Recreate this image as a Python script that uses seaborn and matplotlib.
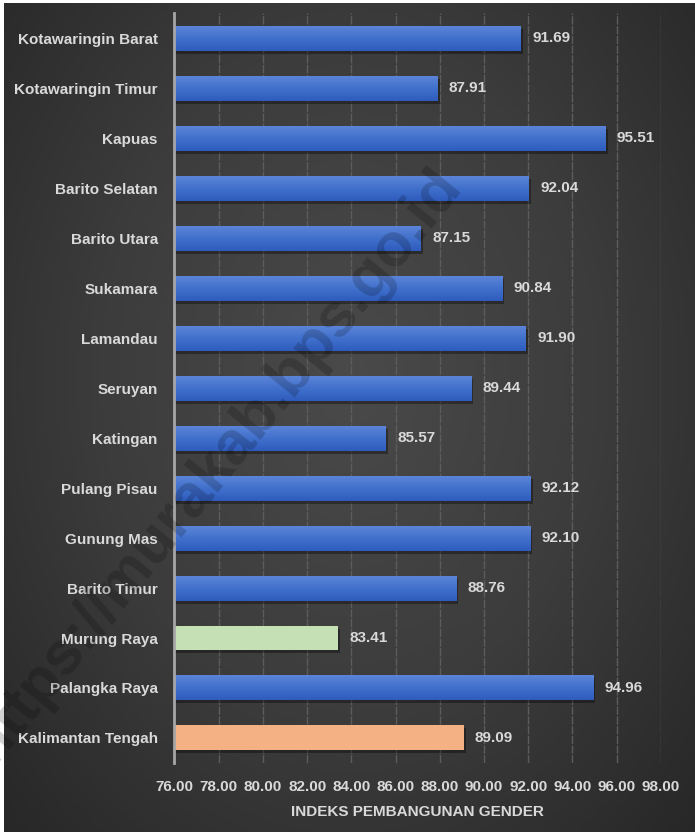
import numpy as np
import pandas as pd
import matplotlib
matplotlib.use('Agg')
import matplotlib.pyplot as plt
import seaborn as sns

# Data
wilayah = ['Kotawaringin Barat', 'Kotawaringin Timur', 'Kapuas', 'Barito Selatan',
           'Barito Utara', 'Sukamara', 'Lamandau', 'Seruyan', 'Katingan',
           'Pulang Pisau', 'Gunung Mas', 'Barito Timur', 'Murung Raya',
           'Palangka Raya', 'Kalimantan Tengah']
ipg = [91.69, 87.91, 95.51, 92.04, 87.15, 90.84, 91.90, 89.44, 85.57,
       92.12, 92.10, 88.76, 83.41, 94.96, 89.09]
ticks = [76, 78, 80, 82, 84, 86, 88, 90, 92, 94, 96, 98]

df = pd.DataFrame({'Wilayah': wilayah, 'IPG': ipg})

blue = '#3f6dcc'
warna = {w: blue for w in wilayah}
warna['Murung Raya'] = '#c5e0b4'
warna['Kalimantan Tengah'] = '#f4b183'

sns.set_style('dark')
plt.rcParams['font.family'] = ['Liberation Sans', 'DejaVu Sans']
txt = '#d9d9d9'
fs = 11

fig = plt.figure(figsize=(6.95, 8.32), dpi=100)
fig.patch.set_facecolor('white')

# background gradient (dark gray, lighter in the middle)
bg = fig.add_axes([0.006, 0, 0.994, 0.996], zorder=-10)
yy, xx = np.mgrid[-1:1:300j, -1:1:300j]
r = np.sqrt((xx * 0.9) ** 2 + ((yy + 0.1) * 0.8) ** 2)
bg.imshow(r, cmap=matplotlib.colors.LinearSegmentedColormap.from_list(
    'g', ['#4a4a4a', '#3c3c3c', '#262626']), aspect='auto', vmin=0, vmax=1.3,
    extent=[0, 1, 0, 1])
bg.set_axis_off()

ax = fig.add_axes([0.251, 0.083, 0.7, 0.901])
ax.set_facecolor('none')

# shadows
ax.barh(np.arange(len(wilayah)) + 0.06, np.array(ipg) - 76 + 0.08, left=76,
        height=0.5, color='black', alpha=0.35, zorder=1, linewidth=0)

sns.barplot(data=df, x='IPG', y='Wilayah', hue='Wilayah', palette=warna,
            orient='h', width=0.5, legend=False, ax=ax, zorder=2,
            saturation=1, edgecolor='none', linewidth=0)

# vertical gradient on the blue bars
grad_cmap = matplotlib.colors.LinearSegmentedColormap.from_list(
    'b', ['#5b84d8', '#4070cc', '#2f5cbd'])
grad = np.linspace(0, 1, 50).reshape(-1, 1)
for p in list(ax.patches):
    if matplotlib.colors.to_hex(p.get_facecolor()) == blue:
        y0, h = p.get_y(), p.get_height()
        x1 = p.get_x() + p.get_width()
        ax.imshow(grad, cmap=grad_cmap, aspect='auto',
                  extent=[76, x1, y0 + h, y0], zorder=3,
                  interpolation='bilinear')

for i, v in enumerate(ipg):
    ax.text(v + 0.5, i, f'{v:.2f}', va='center', ha='left', color=txt,
            fontsize=fs, fontweight='bold', zorder=4)

ax.set_xlim(76, 98)
ax.set_ylim(14.5, -0.5)
ax.set_xticks(ticks)
ax.set_xticklabels([f'{t:.2f}' for t in ticks], color=txt, fontsize=fs,
                   fontweight='bold')
ax.tick_params(axis='y', labelcolor=txt, labelsize=fs, length=0, pad=12)
ax.tick_params(axis='x', length=0, pad=12)
for lab in ax.get_yticklabels():
    lab.set_fontweight('bold')
ax.set_ylabel('')
ax.set_xlabel('INDEKS PEMBANGUNAN GENDER', color=txt, fontsize=fs,
              fontweight='bold', labelpad=8)

ax.grid(axis='x', color='#5c5c5c', linewidth=1, linestyle=(0, (6, 1)), zorder=0)
ax.grid(axis='y', visible=False)
for s in ['top', 'right', 'bottom']:
    ax.spines[s].set_visible(False)
ax.spines['left'].set_color('#a6a6a6')
ax.spines['left'].set_linewidth(2)
ax.spines['left'].set_zorder(5)

# watermark
fig.text(0.31, 0.44, 'https://murakab.bps.go.id', rotation=51, fontsize=44,
         fontweight='bold', color='black', alpha=0.18, ha='center',
         va='center', family=['Liberation Sans', 'DejaVu Sans'])

plt.savefig('out.png', dpi=100)
plt.close()
